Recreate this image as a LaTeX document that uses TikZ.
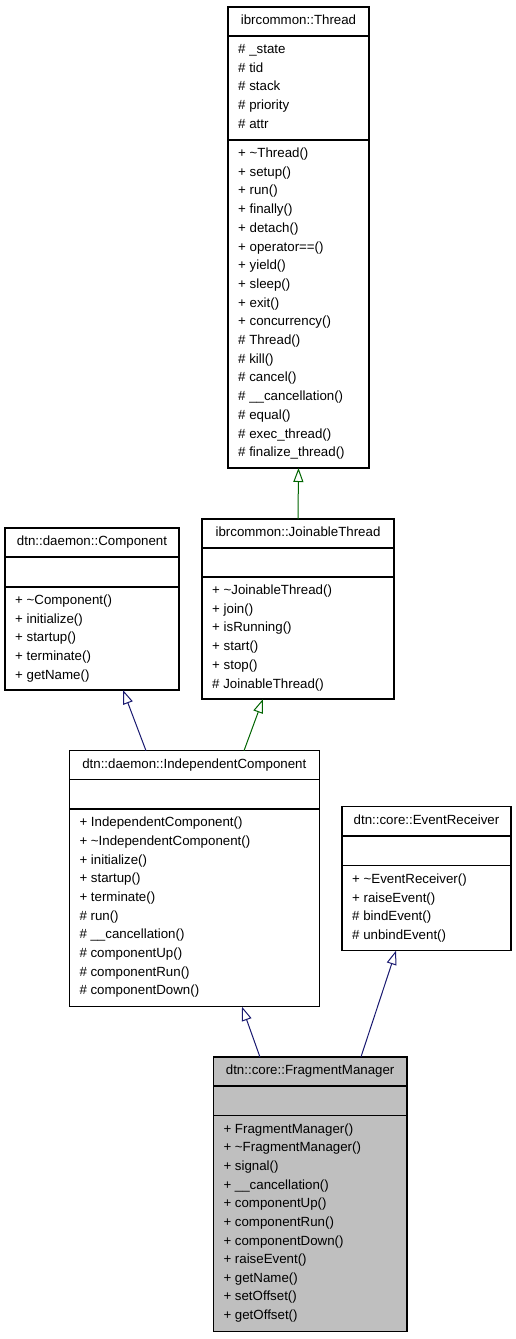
\documentclass[tikz,border=0pt]{standalone}
\usepackage{fontspec}
\setmainfont{Liberation Sans}
\usetikzlibrary{arrows.meta,calc}
\definecolor{edgeblue}{HTML}{191970}
\definecolor{edgegreen}{HTML}{006400}
\definecolor{fmgrey}{HTML}{BFBFBF}
\begin{document}
\begin{tikzpicture}[x=1pt,y=-1pt,
  classbox/.style={draw=black, line width=1.1pt, fill=white, inner sep=0pt, outer sep=0pt, anchor=north west},
  sepline/.style={draw=black, line width=1.1pt},
  hdr/.style={anchor=base, inner sep=0pt, font=\fontsize{13.3}{15}\selectfont},
  mem/.style={anchor=base west, inner sep=0pt, font=\fontsize{13.3}{15}\selectfont},
  inhblue/.style={draw=edgeblue, line width=1pt, -{Triangle[fill=white, length=14pt, width=10pt]}},
  inhgreen/.style={draw=edgegreen, line width=1pt, -{Triangle[fill=white, length=14pt, width=10pt]}}
]
\useasboundingbox (0,0) rectangle (516,1339);

% ---------- ibrcommon::Thread ----------
\node[classbox, minimum width=141pt, minimum height=461pt] (th) at (228,7) {};
\draw[sepline] ([yshift=-29pt]th.north west) -- ([yshift=-29pt]th.north east);
\draw[sepline] ([yshift=-133pt]th.north west) -- ([yshift=-133pt]th.north east);
\node[hdr] (th-h) at ([yshift=-17.5pt]th.north) {ibrcommon::Thread};
\foreach \t [count=\i] in {\# \_state,\# tid,\# stack,\# priority,\# attr}
  \node[mem] (th-a\i) at ([xshift=10pt,yshift={-(29+17.5+(\i-1)*18.7)*1pt}]th.north west) {\t};
\foreach \t [count=\i] in {+ \textasciitilde Thread(),+ setup(),+ run(),+ finally(),+ detach(),+ operator==(),+ yield(),+ sleep(),+ exit(),+ concurrency(),\# Thread(),\# kill(),\# cancel(),\# \_\_cancellation(),\# equal(),\# exec\_thread(),\# finalize\_thread()}
  \node[mem] (th-m\i) at ([xshift=10pt,yshift={-(133+17.5+(\i-1)*18.7)*1pt}]th.north west) {\t};

% ---------- ibrcommon::JoinableThread ----------
\node[classbox, minimum width=192pt, minimum height=180pt] (jt) at (202,519) {};
\draw[sepline] ([yshift=-29pt]jt.north west) -- ([yshift=-29pt]jt.north east);
\draw[sepline] ([yshift=-58pt]jt.north west) -- ([yshift=-58pt]jt.north east);
\node[hdr] (jt-h) at ([yshift=-17.5pt]jt.north) {ibrcommon::JoinableThread};
\foreach \t [count=\i] in {+ \textasciitilde JoinableThread(),+ join(),+ isRunning(),+ start(),+ stop(),\# JoinableThread()}
  \node[mem] (jt-m\i) at ([xshift=10pt,yshift={-(58+17.5+(\i-1)*18.7)*1pt}]jt.north west) {\t};

% ---------- dtn::daemon::Component ----------
\node[classbox, minimum width=174pt, minimum height=162pt] (co) at (5,528) {};
\draw[sepline] ([yshift=-29pt]co.north west) -- ([yshift=-29pt]co.north east);
\draw[sepline] ([yshift=-59pt]co.north west) -- ([yshift=-59pt]co.north east);
\node[hdr] (co-h) at ([yshift=-17.5pt]co.north) {dtn::daemon::Component};
\foreach \t [count=\i] in {+ \textasciitilde Component(),+ initialize(),+ startup(),+ terminate(),+ getName()}
  \node[mem] (co-m\i) at ([xshift=10pt,yshift={-(59+17.5+(\i-1)*18.7)*1pt}]co.north west) {\t};

% ---------- dtn::daemon::IndependentComponent ----------
\node[classbox, minimum width=250pt, minimum height=256pt] (ic) at (69.3,750.7) {};
\draw[sepline] ([yshift=-29pt]ic.north west) -- ([yshift=-29pt]ic.north east);
\draw[sepline] ([yshift=-58.3pt]ic.north west) -- ([yshift=-58.3pt]ic.north east);
\node[hdr] (ic-h) at ([yshift=-17.5pt]ic.north) {dtn::daemon::IndependentComponent};
\foreach \t [count=\i] in {+ IndependentComponent(),+ \textasciitilde IndependentComponent(),+ initialize(),+ startup(),+ terminate(),\# run(),\# \_\_cancellation(),\# componentUp(),\# componentRun(),\# componentDown()}
  \node[mem] (ic-m\i) at ([xshift=10pt,yshift={-(58.3+17.8+(\i-1)*18.65)*1pt}]ic.north west) {\t};

% ---------- dtn::core::EventReceiver ----------
\node[classbox, minimum width=169pt, minimum height=144pt] (er) at (342,806.7) {};
\draw[sepline] ([yshift=-29.3pt]er.north west) -- ([yshift=-29.3pt]er.north east);
\draw[sepline] ([yshift=-59pt]er.north west) -- ([yshift=-59pt]er.north east);
\node[hdr] (er-h) at ([yshift=-17.5pt]er.north) {dtn::core::EventReceiver};
\foreach \t [count=\i] in {+ \textasciitilde EventReceiver(),+ raiseEvent(),\# bindEvent(),\# unbindEvent()}
  \node[mem] (er-m\i) at ([xshift=10pt,yshift={-(59+17.8+(\i-1)*18.65)*1pt}]er.north west) {\t};

% ---------- dtn::core::FragmentManager ----------
\node[classbox, fill=fmgrey, minimum width=193.7pt, minimum height=274.7pt] (fm) at (213.3,1057) {};
\draw[sepline] ([yshift=-29pt]fm.north west) -- ([yshift=-29pt]fm.north east);
\draw[sepline] ([yshift=-58.3pt]fm.north west) -- ([yshift=-58.3pt]fm.north east);
\node[hdr] (fm-h) at ([yshift=-17.5pt]fm.north) {dtn::core::FragmentManager};
\foreach \t [count=\i] in {+ FragmentManager(),+ \textasciitilde FragmentManager(),+ signal(),+ \_\_cancellation(),+ componentUp(),+ componentRun(),+ componentDown(),+ raiseEvent(),+ getName(),+ setOffset(),+ getOffset()}
  \node[mem] (fm-m\i) at ([xshift=10pt,yshift={-(58.3+17.8+(\i-1)*18.65)*1pt}]fm.north west) {\t};

% ---------- inheritance connectors ----------
\draw[inhgreen] (jt.north) -- (th.south);
\draw[inhblue]  ([xshift=-48.3pt]ic.north) -- ([xshift=31pt]co.south);
\draw[inhgreen] ([xshift=49.7pt]ic.north) -- ([xshift=-35pt]jt.south);
\draw[inhblue]  ([xshift=-50.2pt]fm.north) -- ([xshift=47.7pt]ic.south);
\draw[inhblue]  ([xshift=50.8pt]fm.north) -- ([xshift=-30.5pt]er.south);
\end{tikzpicture}
\end{document}
